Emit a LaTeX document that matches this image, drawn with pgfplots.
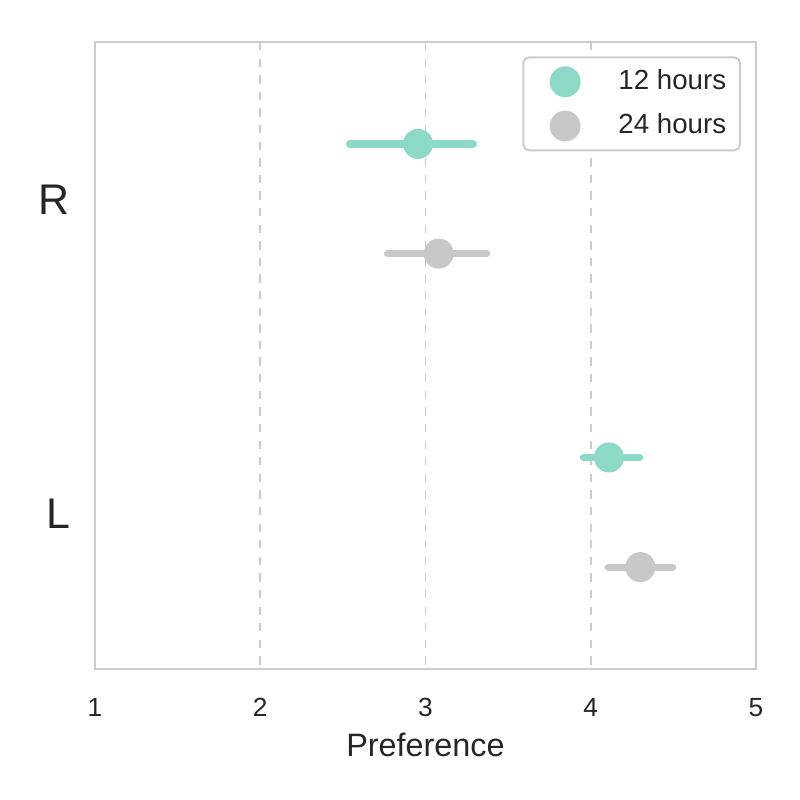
\documentclass[border=0pt]{standalone}
\usepackage{pgfplots}
\pgfplotsset{compat=1.18}
\usepackage{fontspec}
\setmainfont{Liberation Sans}
\definecolor{teal12}{HTML}{8DD9C7}
\definecolor{gray24}{HTML}{C8C8C8}
\definecolor{spine}{HTML}{CCCCCC}
\definecolor{txt}{HTML}{262626}
\begin{document}
\begin{tikzpicture}
\path[use as bounding box] (0bp,0bp) rectangle (288bp,288bp);
\begin{axis}[
  at={(34.2bp,47.16bp)}, anchor=south west,
  scale only axis, width=237.96bp, height=225.72bp,
  xmin=1, xmax=5, ymin=-0.5, ymax=1.5, y dir=reverse,
  xtick={1,2,3,4,5}, ytick={0,1}, yticklabels={R,L},
  major tick length=0pt,
  axis line style={spine, line width=0.9bp},
  xmajorgrids, grid style={spine, dashed, line width=0.7bp},
  tick label style={text=txt},
  xticklabel style={font=\fontsize{9.5}{11}\selectfont, yshift=-7bp},
  yticklabel style={font=\fontsize{15.5}{17}\selectfont, xshift=-5.5bp, yshift=-0.5bp},
  /pgf/number format/assume math mode=true,
  xlabel={Preference},
  xlabel style={font=\fontsize{11.7}{13}\selectfont, text=txt, yshift=1bp},
  legend style={at={(1,1)}, anchor=north east, xshift=-5.4bp, yshift=-5.2bp,
    draw=spine, line width=0.7bp, rounded corners=2bp,
    font=\fontsize{10}{11}\selectfont, text=txt,
    inner xsep=3bp, inner ysep=2.4bp, row sep=3.25bp},
  legend cell align=left,
  legend image code/.code={\path (-1.8bp,0bp); \draw[#1] plot coordinates {(0.35cm,0cm)};},
  clip=false,
]
% error bars
\addplot[forget plot, teal12, line width=2.6bp, line cap=round] coordinates {(2.54,-0.175) (3.29,-0.175)};
\addplot[forget plot, gray24, line width=2.6bp, line cap=round] coordinates {(2.77,0.175) (3.37,0.175)};
\addplot[forget plot, teal12, line width=2.6bp, line cap=round] coordinates {(3.955,0.825) (4.296,0.825)};
\addplot[forget plot, gray24, line width=2.6bp, line cap=round] coordinates {(4.106,1.175) (4.496,1.175)};
% points
\addplot[only marks, mark=*, mark size=5.2bp, mark options={fill=teal12, draw=teal12}] coordinates {(2.955,-0.175) (4.11,0.825)};
\addlegendentry{\hspace{12bp}12 hours}
\addplot[only marks, mark=*, mark size=5.2bp, mark options={fill=gray24, draw=gray24}] coordinates {(3.08,0.175) (4.30,1.175)};
\addlegendentry{\hspace{12bp}24 hours}
\end{axis}
\end{tikzpicture}
\end{document}
